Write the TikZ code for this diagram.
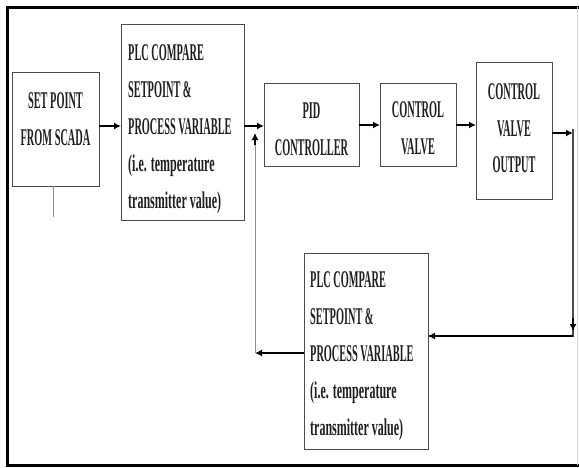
\documentclass[tikz,border=0pt]{standalone}
\usepackage{fontspec}
\setmainfont{Liberation Serif}
\newfontfamily\capf[FakeStretch=0.43]{Liberation Serif Bold}
\newfontfamily\lowf[FakeStretch=0.5]{Liberation Serif Bold}
\usetikzlibrary{arrows.meta}
\begin{document}
\begin{tikzpicture}[x=1pt,y=-1pt,
  blk/.style={draw=black!70, line width=0.9pt, inner sep=0pt, outer sep=0pt},
  txt/.style={inner sep=0pt, text=black!88, font=\fontsize{24}{37}\selectfont\capf},
  arr/.style={-{Latex[length=7pt,width=7pt]}, line width=1.3pt},
  thin/.style={draw=black!45, line width=0.9pt},
  frame/.style={line width=3pt, draw=black}]
\useasboundingbox (0,0) rectangle (579,467);
% frame
\draw[frame] (579,7) -- (7,7) -- (7,465) -- (579,465);
\draw[draw=black!15, line width=0.6pt] (577,7) -- (577,465);

% boxes
\node[blk, minimum width=87pt, minimum height=114pt] (b1) at (55.5,129) {};
\node[blk, minimum width=123pt, minimum height=196pt] (b2) at (182.5,122) {};
\node[blk, minimum width=95pt, minimum height=83pt] (pid) at (311.5,124.5) {};
\node[blk, minimum width=76pt, minimum height=83pt] (cv) at (418,124.5) {};
\node[blk, minimum width=76pt, minimum height=137pt] (out) at (514,130.5) {};
\node[blk, minimum width=124pt, minimum height=196pt] (b3) at (366,351) {};

% texts
\node[txt, align=center] (t1) at (55.5,119) {SET POINT\\FROM SCADA};
\node[txt, align=left, anchor=west] (t2) at (128,129) {\capf PLC COMPARE\\\capf SETPOINT \&\\\capf PROCESS VARIABLE\\\lowf (i.e. temperature\\\lowf transmitter value)};
\node[txt, align=center] (tpid) at (311.5,129.5) {PID\\CONTROLLER};
\node[txt, align=center] (tcv) at (418,128.5) {CONTROL\\VALVE};
\node[txt, align=center, font=\fontsize{24}{36.5}\selectfont\capf] (tout) at (514,128.5) {CONTROL\\VALVE\\OUTPUT};
\node[txt, align=left, anchor=west] (t3) at (310,356.5) {\capf PLC COMPARE\\\capf SETPOINT \&\\\capf PROCESS VARIABLE\\\lowf (i.e. temperature\\\lowf transmitter value)};

% coordinates
\coordinate (j) at (255,126);
\coordinate (jb) at (255,353);
\coordinate (rt) at (573,133);
\coordinate (rc) at (573,336);
\coordinate (stub) at (53,217);

% connectors
\draw[thin] (b1.south -| stub) -- (stub);
\draw[arr] (b1.east |- 0,126) -- (b2.west |- 0,126);
\draw[arr] (b2.east |- 0,126) -- (pid.west |- 0,126);
\draw[arr] (pid.east |- 0,125) -- (cv.west |- 0,125);
\draw[arr] (cv.east |- 0,125) -- (out.west |- 0,125);
\draw[arr] (out.east |- rt) -- (rt);
\draw[line width=1.1pt, draw=black!70] (573,129) -- (rc) -- (b3.east |- rc);
\draw[arr, line width=1.1pt] (573,318) -- (573,331);
\draw[arr] (573,336) -- (b3.east |- rc);
\draw[arr] (b3.west |- jb) -- (jb);
\draw[thin] (jb) -- (255,140);
\draw[arr, line width=1.1pt] (255,145) -- (255,133);
\end{tikzpicture}
\end{document}
